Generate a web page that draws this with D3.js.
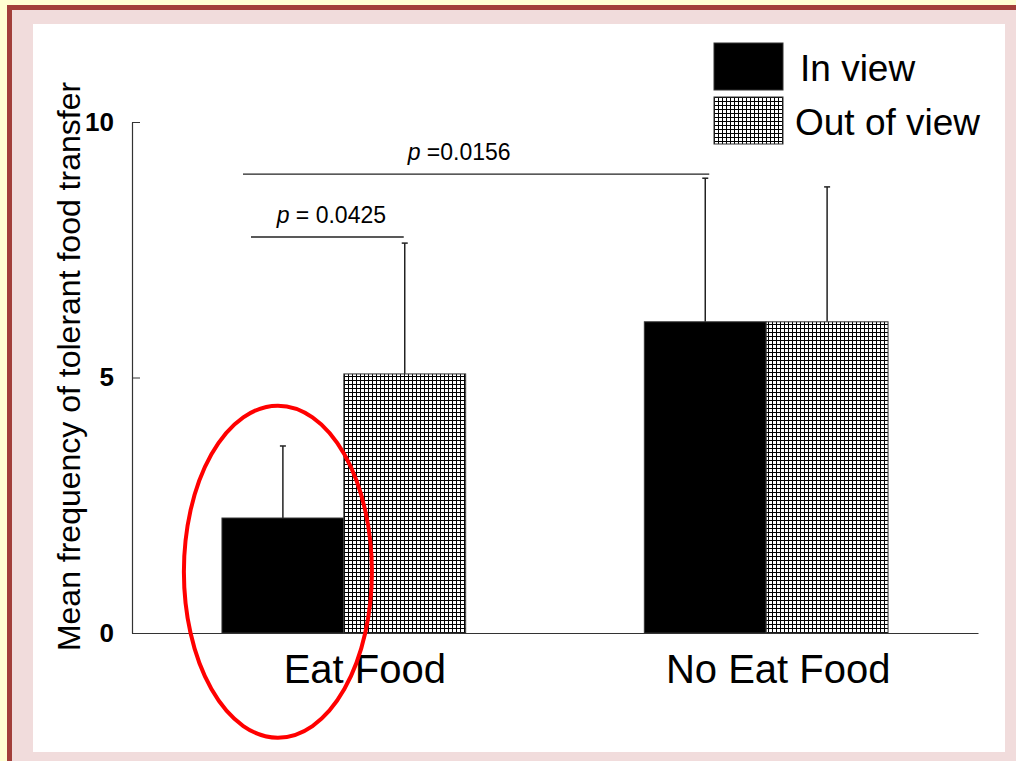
<!DOCTYPE html>
<html>
<head>
<meta charset="utf-8">
<script src="https://cdn.jsdelivr.net/npm/d3@7"></script>
<style>
  body { margin: 0; background: #ffffd2; }
  svg { display: block; font-family: "Liberation Sans", Arial, sans-serif; }
</style>
</head>
<body>
<div id="chart"></div>
<script>
// Tolerant food transfer by condition

const groups = ['Eat Food', 'No Eat Food'];
const series = ['In view', 'Out of view'];
const means = [[2.25, 5.07], [6.09, 6.09]];
const errors = [[1.41, 2.56], [2.81, 2.64]];
const yTicks = [0, 5, 10];
const comparisons = [
    { group: 'Eat Food', from: 'In view', to: 'Out of view', level: 7.75, label: ' = 0.0425' },
    { group: 'No Eat Food', from: 'In view', to: 'In view', level: 8.98, label: ' =0.0156' }
];

const width = 1016, height = 761;
const margin = { top: 122, right: 38, bottom: 128, left: 132 };

const svg = d3.select('#chart').append('svg')
    .attr('width', width)
    .attr('height', height);

// slide frame
svg.append('rect').attr('width', width).attr('height', height).attr('fill', '#ffffd2');
svg.append('rect').attr('x', 7).attr('y', 5).attr('width', width).attr('height', height).attr('fill', '#a23f3a');
svg.append('rect').attr('x', 12).attr('y', 10).attr('width', width).attr('height', height).attr('fill', '#f1dcdc');
svg.append('rect').attr('x', 33).attr('y', 24).attr('width', 972).attr('height', 728).attr('fill', '#fff');

const defs = svg.append('defs');
const pat = defs.append('pattern')
    .attr('id', 'grid')
    .attr('patternUnits', 'userSpaceOnUse')
    .attr('width', 4)
    .attr('height', 4);
pat.append('rect').attr('width', 4).attr('height', 4).attr('fill', '#fff');
pat.append('path').attr('d', 'M0.5,0V4M0,0.5H4').attr('stroke', '#000').attr('stroke-width', 1);

const fills = { 'In view': '#000', 'Out of view': 'url(#grid)' };

const x0 = d3.scaleBand()
    .domain(groups)
    .range([margin.left, width - margin.right])
    .paddingInner(0.423)
    .paddingOuter(0.213);

const x1 = d3.scaleBand()
    .domain(series)
    .range([0, x0.bandwidth()]);

const y = d3.scaleLinear()
    .domain([0, 10])
    .range([height - margin.bottom, margin.top]);

const rows = [];
groups.forEach((g, i) => series.forEach((s, j) => {
    rows.push({ group: g, series: s, mean: means[i][j], err: errors[i][j] });
}));

const cx = d => x0(d.group) + x1(d.series) + x1.bandwidth() / 2;

// error bars
const eb = svg.append('g').attr('stroke', '#222').attr('stroke-width', 1.5);
eb.selectAll('line.stem')
    .data(rows)
    .join('line')
    .attr('class', 'stem')
    .attr('x1', cx).attr('x2', cx)
    .attr('y1', d => y(d.mean))
    .attr('y2', d => y(d.mean + d.err));
eb.selectAll('line.cap')
    .data(rows)
    .join('line')
    .attr('class', 'cap')
    .attr('x1', d => cx(d) - 3).attr('x2', d => cx(d) + 3)
    .attr('y1', d => y(d.mean + d.err))
    .attr('y2', d => y(d.mean + d.err));

// bars
svg.append('g')
    .selectAll('rect')
    .data(rows)
    .join('rect')
    .attr('x', d => x0(d.group) + x1(d.series))
    .attr('y', d => y(d.mean))
    .attr('width', x1.bandwidth())
    .attr('height', d => y(0) - y(d.mean))
    .attr('fill', d => fills[d.series])
    .attr('stroke', '#333')
    .attr('stroke-width', 1);

// axes
const yAxis = svg.append('g')
    .attr('transform', `translate(${margin.left},0)`)
    .call(d3.axisLeft(y).tickValues(yTicks).tickSizeInner(-8).tickSizeOuter(0).tickPadding(18));
yAxis.select('.domain').attr('stroke', '#333').attr('stroke-width', 1.2);
yAxis.selectAll('.tick line').attr('stroke', '#333');
yAxis.selectAll('text')
    .attr('font-size', 26)
    .attr('font-weight', 'bold')
    .attr('fill', '#000')
    .attr('font-family', '"Liberation Sans", Arial, sans-serif');

const labelShift = [21, 12];
const xAxis = svg.append('g')
    .attr('transform', `translate(0,${y(0)})`)
    .call(d3.axisBottom(x0).tickSize(0).tickPadding(22));
xAxis.select('.domain').attr('stroke', '#333').attr('stroke-width', 1.2);
xAxis.selectAll('text')
    .attr('font-size', 40)
    .attr('dx', (d, i) => labelShift[i])
    .attr('fill', '#000')
    .attr('font-family', '"Liberation Sans", Arial, sans-serif');

svg.append('text')
    .attr('transform', `translate(80,${(margin.top + y(0)) / 2 - 11}) rotate(-90)`)
    .attr('text-anchor', 'middle')
    .attr('font-size', 32)
    .text('Mean frequency of tolerant food transfer');

// significance brackets
const sig = svg.append('g');
comparisons.forEach((c, i) => {
    const left = i === 0 ? x0('Eat Food') + 29 : x0('Eat Food') + 21;
    const right = x0(c.group) + x1(c.to) + x1.bandwidth() / 2 + (i === 0 ? -1 : 4);
    sig.append('line')
        .attr('x1', left).attr('x2', right)
        .attr('y1', y(c.level)).attr('y2', y(c.level))
        .attr('stroke', '#222').attr('stroke-width', 1.3);
    const t = sig.append('text')
        .attr('x', (left + right) / 2 + (i === 0 ? 4 : -17))
        .attr('y', y(c.level) - 14)
        .attr('text-anchor', 'middle')
        .attr('font-size', 23);
    t.append('tspan').attr('font-style', 'italic').text('p');
    t.append('tspan').text(c.label);
});

// legend
const legend = svg.append('g').attr('transform', 'translate(714,43)');
series.forEach((s, i) => {
    const g = legend.append('g').attr('transform', `translate(0,${i * 54})`);
    g.append('rect')
        .attr('width', 69).attr('height', 47)
        .attr('fill', fills[s])
        .attr('stroke', '#333').attr('stroke-width', 1);
    g.append('text')
        .attr('x', i === 0 ? 86 : 81)
        .attr('y', 38)
        .attr('font-size', 37)
        .text(s);
});

// red highlight around the Eat Food / In view bar
const hl = rows[0];
svg.append('ellipse')
    .attr('cx', cx(hl) - 5)
    .attr('cy', y(1.2))
    .attr('rx', 94)
    .attr('ry', 166)
    .attr('fill', 'none')
    .attr('stroke', '#ff0000')
    .attr('stroke-width', 4);
</script>
</body>
</html>
